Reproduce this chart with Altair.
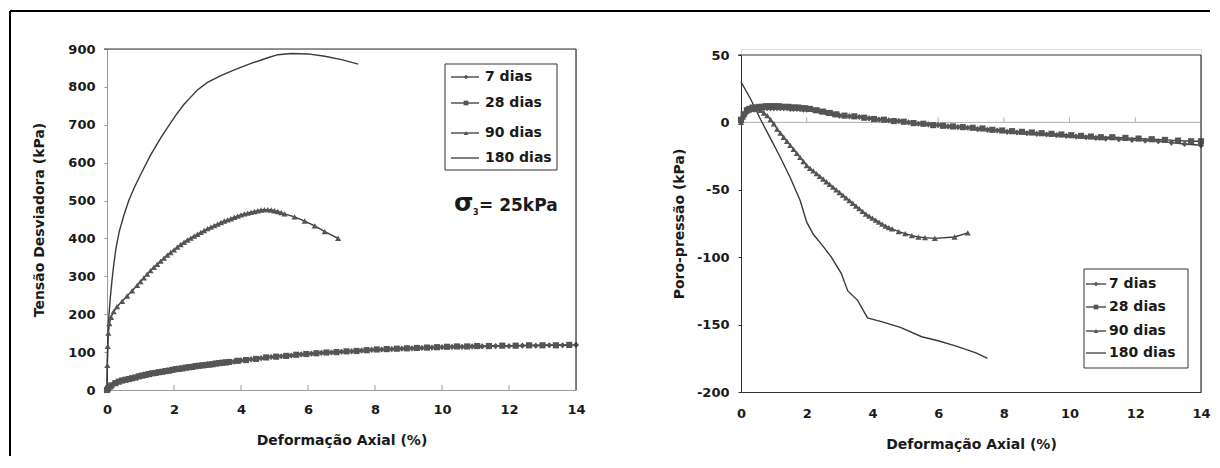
import altair as alt
import pandas as pd

FONT = "DejaVu Sans"
INK = "#1a1a1a"
LINE_C = "#3a3a3a"
PT_C = "#555555"
AXIS_GRAY = "#9a9a9a"
DARK = "#333333"

SERIES = ["7 dias", "28 dias", "90 dias", "180 dias"]
SHAPES = ["diamond", "square", "triangle-up", "circle"]
X_TICKS = [0, 2, 4, 6, 8, 10, 12, 14]
LEFT_Y_TICKS = [0, 100, 200, 300, 400, 500, 600, 700, 800, 900]
RIGHT_Y_TICKS = [-200, -150, -100, -50, 0, 50]

# ---------------- Left panel: Tensão Desviadora (kPa) ----------------
L7_X = [0, 0.05, 0.1, 0.15, 0.2, 0.3, 0.4, 0.5, 0.6, 0.7, 0.8, 0.9, 1.0, 1.1, 1.2, 1.3, 1.4, 1.5, 1.6, 1.7,
        1.8, 1.9, 2.0, 2.1, 2.2, 2.3, 2.4, 2.5, 2.6, 2.7, 2.8, 2.9, 3.0, 3.1, 3.2, 3.3, 3.4, 3.5, 3.6, 3.7,
        3.8, 4.0, 4.3, 4.6, 4.9, 5.2, 5.5, 5.8, 6.1, 6.4, 6.7, 7.0, 7.3, 7.6, 7.9, 8.2, 8.5, 8.8, 9.1, 9.4,
        9.7, 10.0, 10.3, 10.6, 10.9, 11.2, 11.6, 12.0, 12.4, 12.8, 13.2, 13.6, 14.0]
L7_Y = [0, 6, 10, 13, 16, 20, 23, 26, 28, 30, 32, 34, 37, 39, 41, 43, 45, 46, 48, 49,
        51, 52, 54, 55, 57, 58, 59, 61, 62, 63, 65, 66, 67, 68, 69, 70, 71, 72, 73, 74,
        75, 78, 81, 84, 87, 89, 91, 94, 96, 98, 99, 101, 102, 104, 106, 107, 108, 109, 110, 111,
        112, 113, 114, 114, 115, 115, 116, 116, 117, 117, 118, 118, 119]

L28_X = [0, 0.03, 0.08, 0.13, 0.25, 0.35, 0.45, 0.55, 0.65, 0.75, 0.85, 0.95, 1.05, 1.15, 1.25, 1.35,
         1.45, 1.55, 1.65, 1.75, 1.85, 1.95, 2.05, 2.15, 2.25, 2.35, 2.45, 2.55, 2.65, 2.75, 2.85, 2.95,
         3.05, 3.15, 3.25, 3.35, 3.45, 3.55, 3.65, 3.9, 4.15, 4.45, 4.75, 5.05, 5.35, 5.65, 5.95, 6.25,
         6.55, 6.85, 7.15, 7.45, 7.75, 8.05, 8.35, 8.65, 8.95, 9.25, 9.55, 9.85, 10.15, 10.45, 10.75,
         11.05, 11.4, 11.8, 12.2, 12.6, 13.0, 13.4, 13.8]
L28_Y = [0, 4, 9, 12, 18, 22, 25, 27, 29, 31, 33, 36, 38, 40, 42, 44,
         45, 47, 48, 50, 51, 53, 55, 56, 57, 59, 60, 61, 63, 64, 65, 66,
         67, 68, 70, 71, 72, 73, 74, 77, 79, 82, 86, 88, 90, 93, 95, 97,
         99, 100, 102, 103, 105, 107, 108, 109, 110, 111, 112, 113, 114, 115, 115,
         116, 116, 117, 117, 118, 118, 118, 119]

L90_X = [0, 0.01, 0.02, 0.04, 0.07, 0.12, 0.2, 0.3, 0.45, 0.6, 0.75, 0.9, 1.0, 1.1, 1.2, 1.3, 1.4, 1.5,
         1.6, 1.7, 1.8, 1.9, 2.0, 2.1, 2.2, 2.3, 2.4, 2.5, 2.6, 2.7, 2.8, 2.9, 3.0, 3.1, 3.2, 3.3, 3.4,
         3.5, 3.6, 3.7, 3.8, 3.9, 4.0, 4.1, 4.2, 4.3, 4.4, 4.5, 4.6, 4.7, 4.8, 4.9, 5.0, 5.1, 5.2, 5.3,
         5.6, 5.9, 6.2, 6.5, 6.9]
L90_Y = [0, 65, 115, 150, 175, 192, 207, 220, 234, 248, 262, 276, 286, 296, 306, 315, 324, 332,
         340, 348, 356, 363, 370, 377, 384, 390, 396, 401, 406, 411, 416, 421, 426, 430, 434, 438, 442,
         446, 449, 452, 456, 459, 462, 465, 467, 469, 471, 473, 475, 476, 476, 475, 473, 471, 468, 465,
         457, 446, 433, 418, 400]

L180_X = [0, 0.01, 0.03, 0.06, 0.1, 0.15, 0.2, 0.27, 0.37, 0.5, 0.65, 0.81, 1.0, 1.3, 1.6, 1.8, 2.05,
          2.3, 2.5, 2.7, 3.0, 3.4, 3.8, 4.3, 4.8, 5.1, 5.5, 6.0, 6.5, 7.0, 7.5]
L180_Y = [0, 70, 150, 200, 245, 290, 330, 375, 420, 460, 500, 533, 568, 620, 665, 692, 725,
          754, 773, 792, 812, 830, 845, 862, 877, 885, 888, 887, 881, 872, 860]

# ---------------- Right panel: Poro-pressão (kPa) ----------------
R7_X = [0, 0.05, 0.1, 0.15, 0.2, 0.3, 0.4, 0.5, 0.6, 0.7, 0.8, 0.9, 1.0, 1.1, 1.2, 1.3, 1.4, 1.5, 1.6,
        1.7, 1.8, 1.9, 2.0, 2.2, 2.4, 2.6, 2.8, 3.0, 3.3, 3.6, 3.9, 4.2, 4.5, 4.8, 5.1, 5.4, 5.7, 6.0,
        6.3, 6.6, 6.9, 7.2, 7.5, 7.8, 8.1, 8.4, 8.7, 9.0, 9.3, 9.6, 9.9, 10.2, 10.5, 10.8, 11.1, 11.5,
        11.9, 12.3, 12.7, 13.1, 13.5, 14.0]
R7_Y = [0, 3, 5, 7, 8, 9, 9.5, 10, 10, 10.5, 10.5, 10.5, 10.5, 10.5, 10.5, 10.5, 10.5, 10, 10,
        10, 10, 9.5, 9.5, 9, 8, 7, 6, 5, 4.5, 4, 3, 2, 1.5, 1, 0, -1, -1.5, -2,
        -3, -3.5, -4, -5, -5.5, -6, -7, -7.5, -8, -8.5, -9, -9.5, -10, -10.5, -11, -11.5, -12, -12.5,
        -13, -13.5, -14, -15, -16, -17]

R28_X = [0, 0.08, 0.18, 0.25, 0.35, 0.45, 0.55, 0.65, 0.75, 0.85, 0.95, 1.05, 1.15, 1.25, 1.35, 1.45,
         1.55, 1.65, 1.75, 1.85, 1.95, 2.1, 2.3, 2.5, 2.7, 2.9, 3.15, 3.45, 3.75, 4.05, 4.35, 4.65,
         4.95, 5.25, 5.55, 5.85, 6.15, 6.45, 6.75, 7.05, 7.35, 7.65, 7.95, 8.25, 8.55, 8.85, 9.15,
         9.45, 9.75, 10.05, 10.35, 10.65, 10.95, 11.3, 11.7, 12.1, 12.5, 12.9, 13.3, 13.7, 14.0]
R28_Y = [2, 6, 9, 10, 11, 11, 11.5, 11.5, 12, 12, 12, 12, 12, 11.5, 11.5, 11.5,
         11, 11, 11, 10.5, 10.5, 10, 9, 8, 7, 6, 5, 4.5, 3.5, 2.5, 2, 1,
         0.5, -0.5, -1, -2, -2.5, -3, -3.5, -4, -4.5, -5.5, -6, -6.5, -7, -7.5, -8,
         -8.5, -9, -9.5, -10, -10.5, -11, -11, -11.5, -12, -12.5, -13, -13.5, -14, -14]

R90_X = [0, 0.05, 0.1, 0.2, 0.3, 0.4, 0.5, 0.6, 0.7, 0.8, 0.9, 1.0, 1.1, 1.2, 1.3, 1.4, 1.5, 1.6, 1.7,
         1.8, 1.9, 2.0, 2.1, 2.2, 2.3, 2.4, 2.5, 2.6, 2.7, 2.8, 2.9, 3.0, 3.1, 3.2, 3.3, 3.4, 3.5, 3.6,
         3.7, 3.8, 3.9, 4.0, 4.1, 4.2, 4.3, 4.4, 4.5, 4.6, 4.8, 5.0, 5.2, 5.4, 5.6, 5.9, 6.5, 6.9]
R90_Y = [0, 4, 7, 9, 10, 10, 10, 9, 7, 5, 2, -1, -5, -8, -11, -14, -17, -20, -23,
         -26, -29, -32, -34, -36, -38, -40, -42, -44, -46, -48, -50, -52, -54, -56, -58, -60, -62, -64,
         -66, -68, -69.5, -71, -72.5, -74, -75.5, -77, -78, -79, -81, -82.5, -84, -85, -85.5, -86, -85, -82]

R180_X = [0, 0.3, 0.6, 0.9, 1.2, 1.5, 1.8, 2.0, 2.2, 2.5, 2.75, 3.05, 3.25, 3.55, 3.85, 4.3, 4.85, 5.5,
          6.0, 6.55, 7.15, 7.5]
R180_Y = [30, 17, 2, -12, -26, -41, -58, -74, -83, -92, -100, -112, -125, -132, -145, -148, -152, -159,
          -162, -166, -171, -175]


def make_df(groups):
    rows = []
    for name, xs, ys in groups:
        for i, (a, b) in enumerate(zip(xs, ys)):
            rows.append({"serie": name, "deform": a, "valor": b, "ordem": i})
    return pd.DataFrame(rows)


left_df = make_df([("7 dias", L7_X, L7_Y), ("28 dias", L28_X, L28_Y),
                   ("90 dias", L90_X, L90_Y), ("180 dias", L180_X, L180_Y)])
right_df = make_df([("7 dias", R7_X, R7_Y), ("28 dias", R28_X, R28_Y),
                    ("90 dias", R90_X, R90_Y), ("180 dias", R180_X, R180_Y)])

one = pd.DataFrame({"k": [0]})
shape_scale = alt.Scale(domain=SERIES, range=SHAPES)

W_L, H_L = 469, 341
W_R, H_R, R_TOP = 460, 343, 6


def axis(**kw):
    return alt.Axis(labelFont=FONT, labelFontSize=13, labelFontWeight="bold", labelColor=INK,
                    titleFont=FONT, titleFontSize=14, titleFontWeight="bold", titleColor=INK,
                    grid=False, labelFlush=False, labelOverlap=False, **kw)


def series_layers(df, xenc, yenc):
    lines = alt.Chart(df).mark_line(color=LINE_C, strokeWidth=1.4).encode(
        x=xenc, y=yenc, detail="serie:N", order="ordem:Q")
    pts = alt.Chart(df).transform_filter(alt.datum.serie != "180 dias").mark_point(
        filled=True, size=38, opacity=1, color=PT_C).encode(
        x=xenc, y=yenc, shape=alt.Shape("serie:N", scale=shape_scale, legend=None))
    return [lines, pts]


def legend_layers(rows_y, box, x_line, x_pt, x_text, fsize):
    leg = pd.DataFrame({"serie": SERIES, "py": rows_y})
    bx0, bx1, by0, by1 = box
    rect = alt.Chart(one).mark_rect(fill="white", stroke=DARK, strokeWidth=1).encode(
        x=alt.value(bx0), x2=alt.value(bx1), y=alt.value(by0), y2=alt.value(by1))
    lns = alt.Chart(leg).mark_rule(color=LINE_C, strokeWidth=1.3).encode(
        x=alt.value(x_line[0]), x2=alt.value(x_line[1]), y=alt.Y("py:Q", scale=None))
    pts = alt.Chart(leg).transform_filter(alt.datum.serie != "180 dias").mark_point(
        filled=True, size=22, opacity=1, color=PT_C).encode(
        x=alt.value(x_pt), y=alt.Y("py:Q", scale=None),
        shape=alt.Shape("serie:N", scale=shape_scale, legend=None))
    txt = alt.Chart(leg).mark_text(align="left", baseline="middle", font=FONT, fontSize=fsize,
                                   fontWeight="bold", color=INK).encode(
        x=alt.value(x_text), y=alt.Y("py:Q", scale=None), text="serie:N")
    return [rect, lns, pts, txt]


# ---------------- left chart ----------------
lx = alt.X("deform:Q", scale=alt.Scale(domain=[0, 14], nice=False, zero=False),
           axis=axis(values=X_TICKS, ticks=False, domainColor=AXIS_GRAY, labelPadding=13,
                     title="Deformação Axial (%)", titleY=50, titleBaseline="middle"))
ly = alt.Y("valor:Q", scale=alt.Scale(domain=[0, 900], nice=False),
           axis=axis(values=LEFT_Y_TICKS, tickSize=3, tickColor=AXIS_GRAY, domainColor=AXIS_GRAY,
                     labelPadding=9, title="Tensão Desviadora (kPa)", titleAngle=270, titleX=-68,
                     titleY=H_L / 2, titleAlign="center", titleBaseline="middle"))

frame_top = alt.Chart(one).mark_rule(color="#000000", strokeWidth=2).encode(
    x=alt.value(-97), x2=alt.value(1103), y=alt.value(-38))
frame_left = alt.Chart(one).mark_rule(color="#000000", strokeWidth=2).encode(
    x=alt.value(-97), y=alt.value(-38), y2=alt.value(407))
l_top = alt.Chart(one).mark_rule(color=DARK, strokeWidth=1.2).encode(
    x=alt.value(-3), x2=alt.value(W_L), y=alt.value(0))
l_right = alt.Chart(one).mark_rule(color=DARK, strokeWidth=1.2).encode(
    x=alt.value(W_L), y=alt.value(0), y2=alt.value(H_L))
l_ticks = alt.Chart(pd.DataFrame({"deform": X_TICKS[1:-1]})).mark_rule(color=AXIS_GRAY).encode(
    x="deform:Q", y=alt.value(H_L), y2=alt.value(H_L - 5))

sigma = alt.Chart(one).mark_text(align="left", baseline="alphabetic", font=FONT, fontSize=25,
                                 fontWeight="bold", color=INK).encode(
    x=alt.value(347), y=alt.value(162), text=alt.value("σ"))
sub3 = alt.Chart(one).mark_text(align="left", baseline="alphabetic", font=FONT, fontSize=8,
                                fontWeight="bold", color=INK).encode(
    x=alt.value(366), y=alt.value(166), text=alt.value("3"))
eq = alt.Chart(one).mark_text(align="left", baseline="alphabetic", font=FONT, fontSize=17,
                              fontWeight="bold", color=INK).encode(
    x=alt.value(372), y=alt.value(162), text=alt.value("= 25kPa"))

left = alt.layer(
    *series_layers(left_df, lx, ly), l_ticks, l_top, l_right, frame_top, frame_left,
    *legend_layers([28, 54, 84, 109], (338, 450, 15, 121), (344, 372), 359, 378, 14),
    sigma, sub3, eq,
).properties(width=W_L, height=H_L)

# ---------------- right chart ----------------
rx = alt.X("deform:Q", scale=alt.Scale(domain=[0, 14], nice=False, zero=False),
           axis=axis(values=X_TICKS, ticks=False, domainColor=DARK, labelPadding=15,
                     title="Deformação Axial (%)", titleY=52, titleBaseline="middle"))
ry = alt.Y("valor:Q", scale=alt.Scale(domain=[-200, 50], range=[H_R, R_TOP], nice=False, zero=False),
           axis=axis(values=RIGHT_Y_TICKS, tickSize=3, tickColor=DARK, domainColor=DARK,
                     labelPadding=9, labelExpr="'' + datum.value",
                     title="Poro-pressão (kPa)", titleAngle=270, titleX=-62,
                     titleY=(H_R + R_TOP) / 2, titleAlign="center", titleBaseline="middle"))

zero_df = pd.DataFrame({"deform": X_TICKS, "valor": [0] * len(X_TICKS)})
r_zero = alt.Chart(one).mark_rule(color="#b0b0b0", strokeWidth=1).encode(
    x=alt.value(0), x2=alt.value(W_R), y=alt.datum(0))
r_zt = alt.Chart(zero_df[1:-1]).mark_rule(color="#b0b0b0", strokeWidth=1, y2Offset=-5).encode(
    x="deform:Q", y="valor:Q", y2="valor:Q")
r_top = alt.Chart(one).mark_rule(color=DARK, strokeWidth=1.2).encode(
    x=alt.value(-3), x2=alt.value(W_R), y=alt.value(R_TOP))
r_right = alt.Chart(one).mark_rule(color=DARK, strokeWidth=1.2).encode(
    x=alt.value(W_R), y=alt.value(R_TOP), y2=alt.value(H_R))

right = alt.layer(
    r_zero, r_zt, *series_layers(right_df, rx, ry), r_top, r_right,
    *legend_layers([235, 258, 282, 304], (343, 447, 220, 319), (345, 365), 355, 368, 14),
).properties(width=W_R, height=H_R)

chart = alt.hconcat(left, right, spacing=165, bounds="flush").properties(
    padding={"left": 0, "top": 1, "right": 0, "bottom": 0}
).configure_view(strokeWidth=0).configure(background="white")

chart.save("out.html", embed_options={"renderer": "svg", "actions": False})
